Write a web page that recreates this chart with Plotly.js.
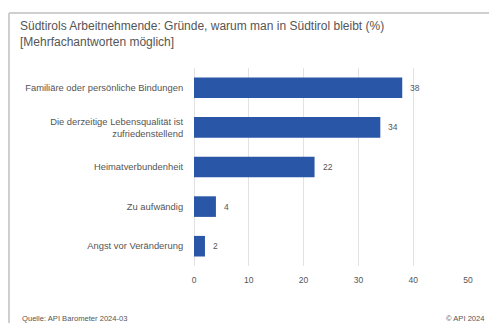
<!DOCTYPE html>
<html>
<head>
<meta charset="utf-8">
<script src="https://cdn.plot.ly/plotly-3.0.1.min.js"></script>
<style>
html,body{margin:0;padding:0;background:#fff;}
#chart{width:489px;height:323px;}
</style>
</head>
<body>
<div id="chart"></div>
<script>
const categories = [
  "Familiäre oder persönliche Bindungen",
  "Die derzeitige Lebensqualität ist<br>zufriedenstellend",
  "Heimatverbundenheit",
  "Zu aufwändig",
  "Angst vor Veränderung"
];
const values = [38, 34, 22, 4, 2];
const xTicks = [0, 10, 20, 30, 40, 50];
const titleText = "Südtirols Arbeitnehmende: Gründe, warum man in Südtirol bleibt (%)<br>[Mehrfachantworten möglich]";
const sourceText = "Quelle: API Barometer 2024-03";
const copyrightText = "© API 2024";

const FONT = "Liberation Sans, Arial, sans-serif";
const GREY = "#555555";

const trace = {
  type: "bar",
  orientation: "h",
  x: values,
  y: categories,
  marker: {color: "#2a56a8", line: {color: "#2a56a8", width: 0}},
  hoverinfo: "none"
};

const valueLabels = values.map((v, i) => ({
  x: v, y: categories[i], xref: "x", yref: "y",
  text: String(v), showarrow: false, xanchor: "left", xshift: 6,
  font: {family: FONT, size: 8.5, color: GREY}
}));

const layout = {
  width: 489, height: 323,
  margin: {l: 194, r: 21, t: 68, b: 57},
  paper_bgcolor: "#ffffff",
  plot_bgcolor: "#ffffff",
  showlegend: false,
  bargap: 0.48,
  title: {
    text: titleText,
    xref: "container", yref: "container",
    x: 20/489, xanchor: "left",
    y: 1 - 30/323, yanchor: "middle",
    font: {family: FONT, size: 12, color: GREY}
  },
  xaxis: {
    range: [0, 50],
    tickvals: xTicks,
    ticktext: xTicks.map(String),
    showgrid: true, gridcolor: "#e2e2e2", gridwidth: 1,
    zeroline: true, zerolinecolor: "#e2e2e2", zerolinewidth: 1,
    showline: false,
    ticks: "outside", ticklen: 6, tickcolor: "rgba(0,0,0,0)",
    tickfont: {family: FONT, size: 8.5, color: GREY},
    fixedrange: true
  },
  yaxis: {
    autorange: "reversed",
    showgrid: false, zeroline: false, showline: false,
    ticks: "outside", ticklen: 8, tickcolor: "rgba(0,0,0,0)",
    tickfont: {family: FONT, size: 9.4, color: GREY},
    fixedrange: true
  },
  shapes: [
    {type: "line", xref: "paper", yref: "paper",
     x0: (9-194)/274, x1: 1.2, y0: (266-13)/198, y1: (266-13)/198,
     line: {color: "#cfcfcf", width: 2}},
    {type: "line", xref: "paper", yref: "paper",
     x0: (9-194)/274, x1: (9-194)/274, y0: (266-13)/198, y1: -0.4,
     line: {color: "#cfcfcf", width: 2}}
  ],
  annotations: valueLabels.concat([
    {xref: "paper", yref: "paper", x: (20-194)/274, y: (266-318)/198,
     xanchor: "left", yanchor: "middle", showarrow: false,
     text: sourceText, font: {family: FONT, size: 7.6, color: GREY}},
    {xref: "paper", yref: "paper", x: (487-194)/274, y: (266-318)/198,
     xanchor: "right", yanchor: "middle", showarrow: false,
     text: copyrightText, font: {family: FONT, size: 7.6, color: GREY}}
  ])
};

Plotly.newPlot("chart", [trace], layout, {displayModeBar: false, staticPlot: true});
</script>
</body>
</html>
